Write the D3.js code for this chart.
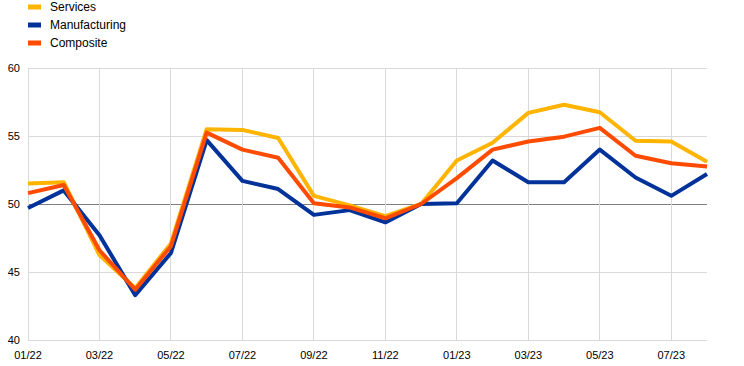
<!DOCTYPE html>
<html><head><meta charset="utf-8">
<script src="https://cdn.jsdelivr.net/npm/d3@7/dist/d3.min.js"></script>
<style>body{margin:0;background:#fff}svg{display:block}text{font-family:Arial,"Liberation Sans",sans-serif}</style>
</head><body><svg id="c" width="744" height="366"></svg>
<script>
const months = ["01/22","02/22","03/22","04/22","05/22","06/22","07/22","08/22","09/22","10/22","11/22","12/22","01/23","02/23","03/23","04/23","05/23","06/23","07/23","08/23"];
const services = [51.5,51.6,46.25,43.8,47.1,55.5,55.45,54.85,50.6,49.9,49.1,50.0,53.2,54.5,56.7,57.3,56.75,54.65,54.6,53.1];
const manufacturing = [49.7,51.0,47.7,43.3,46.4,54.7,51.7,51.1,49.2,49.55,48.65,50.0,50.05,53.2,51.6,51.6,54.0,51.95,50.6,52.2];
const composite = [50.8,51.4,46.6,43.7,46.9,55.25,54.0,53.4,50.05,49.75,48.95,50.0,51.9,54.0,54.6,54.95,55.6,53.55,53.0,52.75];
const yTicks = [40,45,50,55,60];
const seriesNames = ["Services","Manufacturing","Composite"];
const colors = ["#FFB400","#003299","#FF4B00"];

const svg = d3.select("#c");
const x = d3.scaleLinear().domain([0, months.length-1]).range([28, 707]);
const y = d3.scaleLinear().domain([40,60]).range([340, 68]);

// horizontal grid
svg.append("g").selectAll("line").data(yTicks).join("line")
  .attr("x1",28).attr("x2",707).attr("y1",d=>y(d)).attr("y2",d=>y(d))
  .attr("stroke",d=>d===50?"#808080":"#d9d9d9").attr("stroke-width",1).attr("shape-rendering","crispEdges");
// vertical grid every 2 months
const vIdx = d3.range(0, months.length, 2);
svg.append("g").selectAll("line").data(vIdx).join("line")
  .attr("x1",d=>x(d)).attr("x2",d=>x(d)).attr("y1",68).attr("y2",340)
  .attr("stroke","#d9d9d9").attr("stroke-width",1).attr("shape-rendering","crispEdges");

// y labels
svg.append("g").selectAll("text").data(yTicks).join("text")
  .attr("x",20).attr("y",d=>y(d)+4).attr("text-anchor","end")
  .attr("font-size",11).attr("fill","#000").text(d=>d);
// x labels
svg.append("g").selectAll("text").data(vIdx).join("text")
  .attr("x",d=>x(d)).attr("y",359).attr("text-anchor","middle")
  .attr("font-size",11).attr("fill","#000").text(d=>months[d]);

const line = d3.line().x((d,i)=>x(i)).y(d=>y(d));
[services, manufacturing, composite].forEach((s,k)=>{
  svg.append("path").datum(s).attr("d",line).attr("fill","none")
    .attr("stroke",colors[k]).attr("stroke-width",4).attr("stroke-linejoin","round");
});

// legend
seriesNames.forEach((n,k)=>{
  const yy = 7 + k*18;
  svg.append("rect").attr("x",28).attr("y",yy-2.5).attr("width",13).attr("height",5).attr("fill",colors[k]);
  svg.append("text").attr("x",50).attr("y",yy+4).attr("font-size",12).attr("fill","#000").text(n);
});
</script></body></html>
